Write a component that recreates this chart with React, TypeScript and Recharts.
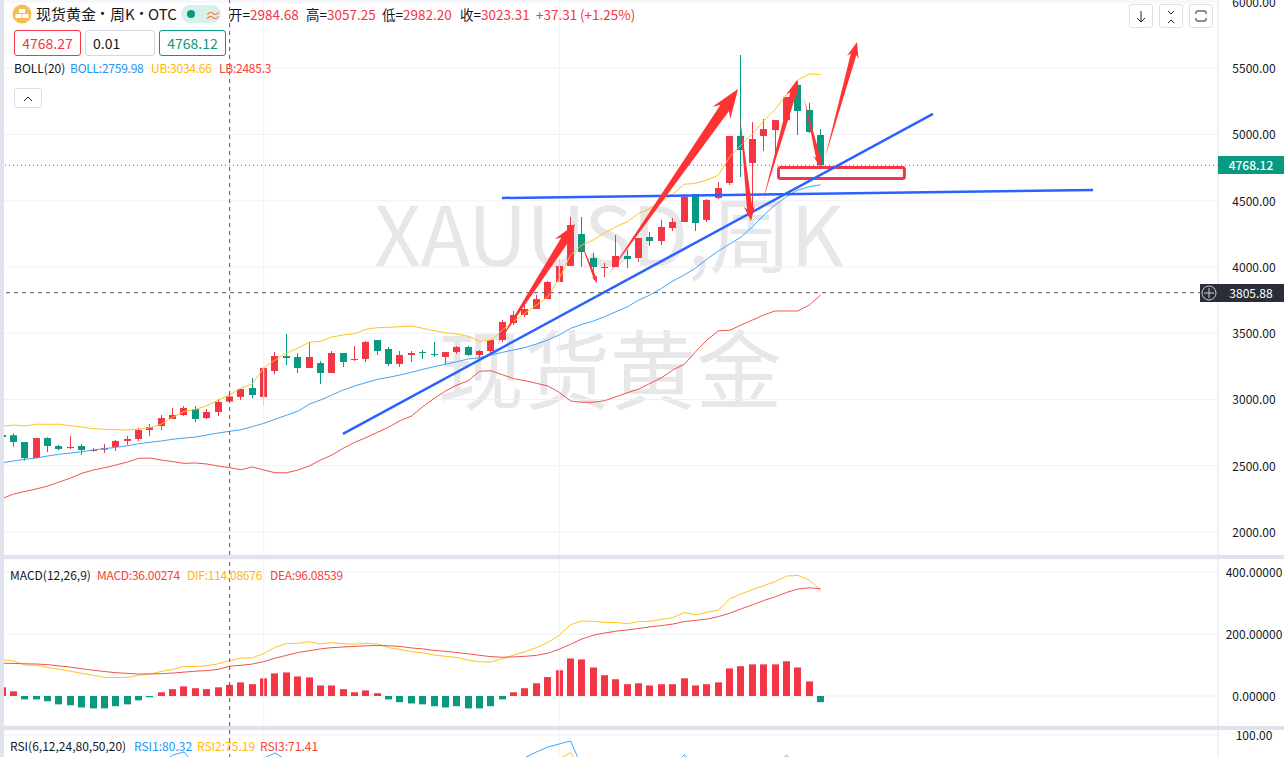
import React from "react";
import { ComposedChart, Bar, Line, XAxis, YAxis, CartesianGrid, ReferenceLine, ReferenceArea } from "recharts";

const RED = "#f23645";
const GREEN = "#089981";
const YELLOW = "#ffc41f";
const BLUE = "#42a5f5";
const LRED = "#ef5350";
const FONT = "'Noto Sans CJK SC','Noto Sans',sans-serif";

const firstIndex = -1;
const opens = [2732,2730,2679,2558,2709,2649,2634,2649,2611,2621,2642,2687,2702,2770,2800,2853,2883,2928,2860,2906,2984.68,3019,3087,3019,3215,3328,3321,3238,3275,3200,3351,3298,3306,3449,3381,3268,3336,3358,3343,3321,3358,3396,3336,3366,3449,3577,3638,3683,3758,3887,4008,4249,4068,3992,4000,4083,4068,4226,4196,4294,4340,4551,4355,4521,4634,4989,4785,4989,5033,5109,5374,5185,4996];
const closes = [2717,2679,2558,2709,2649,2626,2642,2619,2619,2632,2687,2702,2770,2792,2860,2883,2936,2853,2906,2981,3023.31,3079,3034,3238,3328,3313,3238,3321,3200,3351,3283,3306,3434,3366,3268,3336,3351,3351,3336,3358,3396,3336,3366,3449,3585,3638,3683,3758,3887,4008,4317,4113,4000,4000,4083,4060,4219,4196,4302,4340,4528,4332,4506,4596,4989,4883,4966,5041,5109,5283,5177,5019,4768.12];
const highs = [2747,2745,2679,2709,2715,2657,2725,2664,2634,2664,2694,2725,2785,2815,2883,2936,2951,2951,2928,3004,3057.25,3079,3162,3245,3358,3494,3351,3434,3291,3366,3351,3404,3441,3449,3396,3366,3366,3374,3434,3358,3404,3404,3374,3449,3600,3668,3713,3789,3894,4060,4377,4377,4106,4030,4241,4128,4219,4264,4355,4370,4551,4551,4513,4641,4989,5600,5094,5117,5109,5283,5411,5238,5041];
const lows = [2694,2644,2538,2558,2604,2617,2626,2581,2606,2596,2611,2657,2687,2725,2770,2853,2875,2830,2853,2875,2982.2,2996,3011,2951,3192,3260,3200,3238,3117,3200,3245,3291,3283,3336,3253,3245,3283,3306,3321,3268,3343,3328,3306,3343,3434,3562,3623,3683,3758,3887,4008,4000,3932,3924,4000,3992,4038,4158,4166,4272,4340,4272,4340,4513,4619,4679,4400,4875,4838,5109,4996,5011,4768];
const bollUpper = [2800,2807,2800,2813,2813,2813,2802,2792,2780,2775,2772,2770,2777,2787,2815,2866,2911,2926,2953,2996,3034.66,3087,3117,3240,3298,3349,3389,3432,3439,3472,3487,3497,3530,3542,3545,3549,3555,3537,3519,3504,3494,3477,3439,3449,3525,3592,3653,3713,3776,3915,4091,4166,4204,4257,4304,4342,4405,4443,4493,4551,4624,4632,4657,4692,4832,4921,5004,5104,5190,5303,5411,5457,5451];
const bollMid = [2523,2536,2549,2558,2574,2586,2596,2606,2619,2629,2639,2651,2666,2677,2687,2700,2709,2717,2732,2747,2759.98,2772,2795,2820,2851,2881,2911,2964,2996,3034,3072,3102,3127,3152,3167,3185,3205,3228,3248,3266,3285,3306,3315,3336,3356,3374,3392,3419,3449,3487,3537,3567,3592,3625,3663,3700,3751,3789,3839,3894,3940,3992,4060,4121,4174,4226,4304,4392,4468,4531,4581,4606,4621];
const bollLower = [2253,2287,2306,2325,2347,2377,2407,2443,2468,2485,2506,2528,2556,2558,2543,2531,2518,2521,2513,2498,2485.3,2470,2491,2468,2447,2447,2468,2498,2543,2581,2632,2677,2712,2752,2792,2840,2875,2946,3009,3064,3109,3142,3213,3217,3187,3157,3142,3122,3102,3054,2989,2979,2979,2991,3021,3051,3079,3122,3164,3223,3266,3361,3449,3519,3522,3562,3600,3638,3668,3668,3668,3713,3789];
const macdHist = [28,15,-11,-11,-17,-27,-30,-37,-40,-40,-33,-27,-14,-4,12,22,31,25,22,28,36.00274,44,38,57,73,76,63,60,34,34,22,12,18,9,-11,-20,-24,-27,-33,-37,-33,-40,-40,-33,-11,12,25,41,61,83,121,118,92,67,54,38,41,34,38,38,57,34,38,44,89,96,102,102,102,112,92,47,-20];
const macdDif = [117,113,100,99,92,86,80,73,67,60,60,60,67,71,79,86,95,95,98,104,114.08676,122,123,137,157,169,170,175,168,172,169,167,170,168,156,150,143,139,132,128,124,116,110,110,120,132,143,156,173,196,230,242,241,237,237,233,240,241,247,253,269,262,270,277,313,329,343,356,369,387,389,374,339];
const macdDea = [106,105,104,103,101,97,93,88,83,79,75,73,71,71,72,74,77,80,82,86,96.08539,99,103,111,122,131,140,146,152,156,158,160,162,163,162,160,155,152,147,144,140,136,131,127,125,126,128,131,138,151,167,184,196,203,209,213,218,223,227,232,240,244,248,256,267,281,294,308,320,334,345,349,346];
const rsi1Visible: [number, number][] = [[13,80],[14,85.7],[15,87.9],[16,78],[22,83.5],[23,87.1],[24,82],[44,80],[45,83.9],[46,87.9],[47,91.4],[48,93.6],[49,95.7],[50,77],[58,78],[59,85.9],[60,78],[67,78],[68,85.5],[69,78]];
const rsi2Visible: [number, number][] = [[48,83],[49,87.4],[50,74]];
const priceTicks = [2000,2500,3000,3500,4000,4500,5000,5500,6000];
const macdTicks = [0,200,400];
const rsiTicks = [100];
const lastPrice = 4768.12;
const crossPrice = 3805.88;
const crossIndex = 19;
const gridIndexes = [22,48];
const trendLines: [number, number, number, number][] = [[28.97,2740,80.88,5155],[42.96,4521,94.96,4581]];
const arrows: [number, number, number, number][] = [
  [42.52,3411,49.39,4324],[49.82,4204,51.32,3879],[52.29,3940,63.73,5343],[63.9,5124,64.87,4347],[65.93,4506,68.92,5411],[69.53,5275,70.98,4755],[71.38,4823,74.2,5698],
];
const arrowScales = [1.25,0.4,1.55,0.8,0.9,0.65,0.85];
const supportBox = [67.29,78.37,4668,4751];
const quoteParts: [string, string, number][] = [["开=","2984.68",229],["高=","3057.25",306],["低=","2982.20",382],["收=","3023.31",460],["","+37.31",536],["","(+1.25%)",580]];
const titleParts: [string, number][] = [["现货黄金",36],["周K",110],["OTC",148]];
const titleDots = [100,139];

const rows = opens.map((open, i) => {
  const idx = firstIndex + i;
  const r1 = rsi1Visible.find((p) => p[0] === idx);
  const r2 = rsi2Visible.find((p) => p[0] === idx);
  return {
    idx, open, close: closes[i], high: highs[i], low: lows[i],
    upper: bollUpper[i], mid: bollMid[i], lower: bollLower[i],
    hist: macdHist[i], dif: macdDif[i], dea: macdDea[i],
    rsi1: r1 ? r1[1] : null, rsi2: r2 ? r2[1] : null,
  };
});

const X_DOMAIN: [number, number] = [-0.853, 105.96];

const Candle = (p: any) => {
  const { x, y, width, height, payload } = p;
  if (height == null || !payload) return null;
  const perUnit = height / (payload.high - payload.low);
  const c = Math.floor(x + width / 2) + 0.5;
  const top = y + (payload.high - Math.max(payload.open, payload.close)) * perUnit;
  const h = Math.max(1, Math.abs(payload.open - payload.close) * perUnit);
  const fill = payload.close >= payload.open ? RED : GREEN;
  return (
    <g>
      <rect x={c - 0.5} y={y} width={1} height={height} fill={fill} />
      <rect x={c - 3.5} y={top} width={7} height={h} fill={fill} />
    </g>
  );
};

const HistBar = (p: any) => {
  const { x, y, width, height, payload } = p;
  const c = Math.floor(x + width / 2) + 0.5;
  return <rect x={c - 3.5} y={Math.min(y, y + height)} width={7} height={Math.abs(height)} fill={payload.hist >= 0 ? RED : GREEN} />;
};

const makeTick = (digits: number) => (p: any) => (
  <text x={p.x + 36} y={p.y + 5} textAnchor="middle" fontSize={12} fontFamily={FONT} fill="#131722">
    {Number(p.payload.value).toFixed(digits)}
  </text>
);

const makeArrow = (scale: number) => (p: any) => {
  const { x1, y1, x2, y2 } = p;
  const dx = x2 - x1, dy = y2 - y1;
  const len = Math.hypot(dx, dy) || 1;
  const ux = dx / len, uy = dy / len, nx = -uy, ny = ux;
  const headL = 15 * scale, headW = 7 * scale, shaft = 3.4 * scale;
  const bx = x2 - ux * headL, by = y2 - uy * headL;
  const nb = headL * 0.25;
  const pts = [
    [x1, y1],
    [bx + nx * shaft, by + ny * shaft],
    [bx - ux * nb + nx * headW, by - uy * nb + ny * headW],
    [x2, y2],
    [bx - ux * nb - nx * headW, by - uy * nb - ny * headW],
    [bx - nx * shaft, by - ny * shaft],
  ];
  return <polygon points={pts.map((q) => q.join(",")).join(" ")} fill="#ff3333" />;
};

const Legend = ({ top, items, spacing }: { top: number; items: [string, number, string][]; spacing?: number }) => (
  <>
    {items.map(([t, left, color], i) => (
      <div key={t} style={{ position: "absolute", left, top, fontSize: 12, lineHeight: "16px", color, whiteSpace: "nowrap", letterSpacing: i > 0 ? spacing || 0 : 0 }}>{t}</div>
    ))}
  </>
);

const Box = ({ left, width, text, border, color, align }: { left: number; width: number; text: string; border: string; color: string; align: "center" | "left" }) => (
  <div style={{ position: "absolute", left, top: 30, width, height: 24, border: `1px solid ${border}`, borderRadius: 3, fontSize: 14, lineHeight: "24px", color, textAlign: align, textIndent: align === "left" ? 7 : 0, background: "#fff" }}>{text}</div>
);

const IconBtn = ({ left, d }: { left: number; d: string }) => (
  <div style={{ position: "absolute", left, top: 4, width: 22, height: 22, border: "1px solid #dcdfe6", borderRadius: 3, background: "#fff" }}>
    <svg width="22" height="22"><path d={d} fill="none" stroke="#222" strokeWidth="1" /></svg>
  </div>
);

export default function App() {
  const chartMargin = { top: 0, right: 0, bottom: 0, left: 0 };
  return (
    <div style={{ position: "fixed", left: 0, top: 0, width: 1284, height: 757, overflow: "hidden", background: "#fff", fontFamily: FONT }}>
      {/* watermarks */}
      <div style={{ position: "absolute", left: 374, top: 176, fontSize: 82, lineHeight: "110px", letterSpacing: -0.8, color: "#e7e7ea", fontFamily: "'Noto Sans CJK SC'", whiteSpace: "nowrap" }}>XAUUSD,周K</div>
      <div style={{ position: "absolute", left: 438, top: 311, fontSize: 86, lineHeight: "110px", color: "#e7e7ea", fontFamily: "'Noto Sans CJK SC'", whiteSpace: "nowrap" }}>现货黄金</div>

      <div style={{ position: "absolute", left: 4, top: 0 }}>
        <ComposedChart width={1280} height={555} data={rows} margin={chartMargin}>
          <CartesianGrid vertical={false} stroke="#f0f1f5" />
          <XAxis type="number" dataKey="idx" hide domain={X_DOMAIN} allowDataOverflow />
          <YAxis orientation="right" width={66} domain={[1826.4, 6015]} ticks={priceTicks} allowDataOverflow interval={0} tickLine={false} tickSize={0} tickMargin={0} axisLine={{ stroke: "#e0e3eb" }} tick={makeTick(2)} />
          {gridIndexes.map((g) => <ReferenceLine key={g} x={g} stroke="#f0f1f5" />)}
          <Bar dataKey={(d: any) => [d.low, d.high]} barSize={7} shape={Candle} isAnimationActive={false} />
          <Line dataKey="upper" stroke={YELLOW} strokeWidth={1} dot={false} isAnimationActive={false} />
          <Line dataKey="mid" stroke={BLUE} strokeWidth={1} dot={false} isAnimationActive={false} />
          <Line dataKey="lower" stroke={LRED} strokeWidth={1} dot={false} isAnimationActive={false} />
          <ReferenceLine y={lastPrice} stroke={GREEN} strokeDasharray="1 3" />
          <ReferenceLine y={crossPrice} stroke="#555" strokeDasharray="4 4" />
          <ReferenceLine x={crossIndex} stroke="#555" strokeDasharray="4 4" />
          <ReferenceArea x1={supportBox[0]} x2={supportBox[1]} y1={supportBox[2]} y2={supportBox[3]} fill="#fff" fillOpacity={0} stroke={RED} strokeWidth={3} radius={2} />
          {trendLines.map((t, i) => (
            <ReferenceLine key={i} segment={[{ x: t[0], y: t[1] }, { x: t[2], y: t[3] }]} stroke="#2962ff" strokeWidth={2.5} />
          ))}
          {arrows.map((a, i) => (
            <ReferenceLine key={i} segment={[{ x: a[0], y: a[1] }, { x: a[2], y: a[3] }]} shape={makeArrow(arrowScales[i])} />
          ))}
        </ComposedChart>
      </div>

      <div style={{ position: "absolute", left: 4, top: 559 }}>
        <ComposedChart width={1280} height={167} data={rows} margin={chartMargin}>
          <CartesianGrid vertical={false} stroke="#f0f1f5" />
          <XAxis type="number" dataKey="idx" hide domain={X_DOMAIN} allowDataOverflow />
          <YAxis orientation="right" width={66} domain={[-96.8, 441.9]} ticks={macdTicks} allowDataOverflow interval={0} tickLine={false} tickSize={0} tickMargin={0} axisLine={{ stroke: "#e0e3eb" }} tick={makeTick(5)} />
          {gridIndexes.map((g) => <ReferenceLine key={g} x={g} stroke="#f0f1f5" />)}
          <Bar dataKey="hist" barSize={7} shape={HistBar} isAnimationActive={false} />
          <Line dataKey="dif" stroke={YELLOW} strokeWidth={1} dot={false} isAnimationActive={false} />
          <Line dataKey="dea" stroke={LRED} strokeWidth={1} dot={false} isAnimationActive={false} />
          <ReferenceLine x={crossIndex} stroke="#555" strokeDasharray="4 4" />
        </ComposedChart>
      </div>

      <div style={{ position: "absolute", left: 4, top: 730 }}>
        <ComposedChart width={1280} height={100} data={rows} margin={chartMargin}>
          <CartesianGrid vertical={false} stroke="#f0f1f5" />
          <XAxis type="number" dataKey="idx" hide domain={X_DOMAIN} allowDataOverflow />
          <YAxis orientation="right" width={66} domain={[32.14, 103.57]} ticks={rsiTicks} allowDataOverflow interval={0} tickLine={false} tickSize={0} tickMargin={0} axisLine={{ stroke: "#e0e3eb" }} tick={makeTick(2)} />
          {gridIndexes.map((g) => <ReferenceLine key={g} x={g} stroke="#f0f1f5" />)}
          <Line dataKey="rsi1" stroke={BLUE} strokeWidth={1} dot={false} isAnimationActive={false} />
          <Line dataKey="rsi2" stroke={YELLOW} strokeWidth={1} dot={false} isAnimationActive={false} />
          <ReferenceLine x={crossIndex} stroke="#555" strokeDasharray="4 4" />
        </ComposedChart>
      </div>

      {/* frame */}
      <div style={{ position: "absolute", left: 0, top: 0, width: 4, height: 757, background: "#e0e3eb" }} />
      <div style={{ position: "absolute", left: 0, top: 555, width: 1284, height: 4, background: "#e0e3eb" }} />
      <div style={{ position: "absolute", left: 0, top: 726, width: 1284, height: 4, background: "#e0e3eb" }} />

      {/* price tags */}
      <div style={{ position: "absolute", left: 1218, top: 156, width: 66, height: 18, background: GREEN, color: "#fff", fontSize: 12, lineHeight: "18px", textAlign: "center", fontWeight: 500 }}>4768.12</div>
      <div style={{ position: "absolute", left: 1200, top: 284, width: 84, height: 18, background: "#2a2e39" }}>
        <svg width="18" height="18" style={{ position: "absolute", left: 0, top: 0 }}>
          <circle cx="9" cy="9" r="7" fill="none" stroke="#c9ccd3" />
          <path d="M4 9H14M9 4V14" stroke="#c9ccd3" />
        </svg>
        <div style={{ position: "absolute", left: 18, top: 0, width: 66, color: "#fff", fontSize: 12, lineHeight: "18px", textAlign: "center" }}>3805.88</div>
      </div>

      {/* header */}
      <svg width="20" height="20" style={{ position: "absolute", left: 12, top: 4 }}>
        <circle cx="10" cy="10" r="9.5" fill="#f3bd4f" />
        <rect x="7" y="5" width="6" height="4" fill="#fff" />
        <rect x="3.5" y="10" width="6" height="4" fill="#fff" />
        <rect x="10.5" y="10" width="6" height="4" fill="#fff" />
      </svg>
      {titleParts.map(([t, left]) => (
        <div key={left} style={{ position: "absolute", left, top: 4, fontSize: 15, lineHeight: "20px", color: "#131722", whiteSpace: "nowrap" }}>{t}</div>
      ))}
      {titleDots.map((left) => (
        <div key={left} style={{ position: "absolute", left, top: 4, fontSize: 15, lineHeight: "20px", color: "#131722", fontFamily: "Roboto" }}>•</div>
      ))}
      <div style={{ position: "absolute", left: 181, top: 5, width: 40, height: 18, borderRadius: 9, background: "#d8efea" }}>
        <div style={{ position: "absolute", left: 6, top: 5, width: 8, height: 8, borderRadius: 4, background: GREEN }} />
        <div style={{ position: "absolute", left: 24, top: 0, fontSize: 16, lineHeight: "18px", color: "#ff7a45" }}>≈</div>
      </div>
      {quoteParts.map(([k, v, left]) => (
        <div key={left} style={{ position: "absolute", left, top: 5, fontSize: 13.5, lineHeight: "18px", color: "#131722", whiteSpace: "nowrap" }}>
          {k}<span style={{ color: RED }}>{v}</span>
        </div>
      ))}
      <Box left={14} width={65} text="4768.27" border={RED} color={RED} align="center" />
      <Box left={85} width={68} text="0.01" border="#d5d8e0" color="#131722" align="left" />
      <Box left={159} width={65} text="4768.12" border={GREEN} color={GREEN} align="center" />
      <Legend top={60} spacing={-0.25} items={[["BOLL(20)", 14, "#131722"], ["BOLL:2759.98", 70, "#2196f3"], ["UB:3034.66", 151, "#ffb800"], ["LB:2485.3", 219, "#f44336"]]} />
      <div style={{ position: "absolute", left: 14, top: 88, width: 26, height: 18, border: "1px solid #dcdfe6", borderRadius: 3, background: "#fff" }}>
        <svg width="26" height="18"><path d="M9 11L13 7L17 11" fill="none" stroke="#222" /></svg>
      </div>
      <Legend top={567} spacing={-0.25} items={[["MACD(12,26,9)", 10, "#131722"], ["MACD:36.00274", 97, "#f44336"], ["DIF:114.08676", 187, "#ffb800"], ["DEA:96.08539", 270, "#f44336"]]} />
      <Legend top={738} items={[["RSI(6,12,24,80,50,20)", 10, "#131722"], ["RSI1:80.32", 134, "#2196f3"], ["RSI2:75.19", 197, "#ffb800"], ["RSI3:71.41", 260, "#f44336"]]} />
      <IconBtn left={1129} d="M11 6V17M7 13L11 17L15 13" />
      <IconBtn left={1159} d="M8 6L11 9L14 6M8 18L11 15L14 18" />
      <IconBtn left={1189} d="M6 9V7Q6 6 7 6H15Q16 6 16 7V9M6 13V15Q6 16 7 16H15Q16 16 16 15V13" />
    </div>
  );
}
